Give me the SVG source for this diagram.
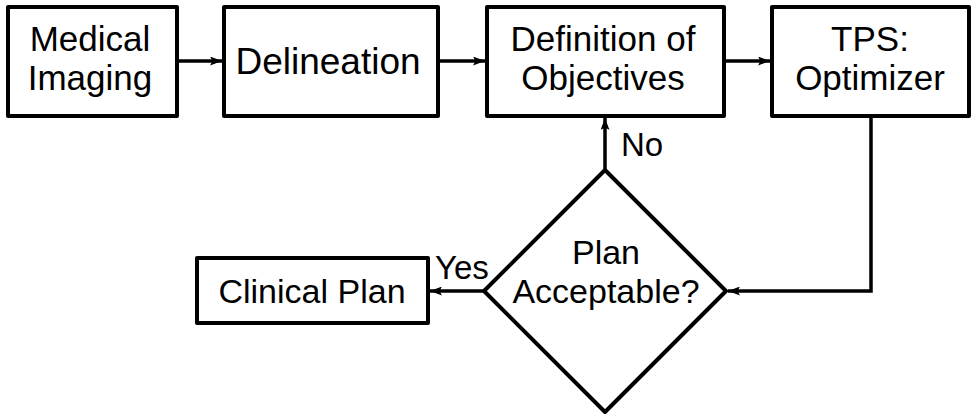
<svg xmlns="http://www.w3.org/2000/svg" width="975" height="418" viewBox="0 0 975 418">
<style>
.box{fill:#fff;stroke:#000;stroke-width:4;stroke-linejoin:round}
.t{font-family:"Liberation Sans",Arial,sans-serif;font-size:35px;fill:#000;text-anchor:middle}
.s{font-size:34px}
.lbl{font-family:"Liberation Sans",Arial,sans-serif;font-size:33px;fill:#000}
.c{fill:none;stroke:#000;stroke-width:3.5}
</style>
<defs>
<marker id="ah" viewBox="0 0 12 9" refX="12" refY="4.5" markerWidth="12" markerHeight="9" markerUnits="userSpaceOnUse" orient="auto">
<path d="M0,0 L12,4.5 L0,9 L2.5,4.5 Z" fill="#000"/>
</marker>
</defs>
<rect width="975" height="418" fill="#fff"/>
<g id="connectors">
<path class="c" d="M177,61 H222" marker-end="url(#ah)"/>
<path class="c" d="M438,61 H485" marker-end="url(#ah)"/>
<path class="c" d="M724,61 H770" marker-end="url(#ah)"/>
<path class="c" d="M871,116 V291 H728" marker-end="url(#ah)"/>
<path class="c" d="M605,170 V118" marker-end="url(#ah)"/>
<path class="c" d="M484,291 H430" marker-end="url(#ah)"/>
<text class="lbl" x="621" y="156">No</text>
<text class="lbl" x="435" y="279">Yes</text>
</g>
<g id="medical-imaging">
<rect class="box" x="8" y="7" width="169" height="109"/>
<text class="t" x="90" y="51">Medical</text>
<text class="t" x="90" y="90">Imaging</text>
</g>
<g id="delineation">
<rect class="box" x="224" y="7" width="214" height="109"/>
<text class="t s" x="328" y="74" style="font-size:37px">Delineation</text>
</g>
<g id="definition">
<rect class="box" x="487" y="7" width="237" height="109"/>
<text class="t" x="603" y="51">Definition of</text>
<text class="t" x="603" y="90">Objectives</text>
</g>
<g id="tps">
<rect class="box" x="772" y="7" width="197" height="109"/>
<text class="t" x="870" y="51">TPS:</text>
<text class="t" x="870" y="90">Optimizer</text>
</g>
<g id="decision">
<path class="box" d="M605,170 L726,291 L605,412 L484,291 Z"/>
<text class="t s" x="606" y="264">Plan</text>
<text class="t s" x="606" y="303">Acceptable?</text>
</g>
<g id="clinical-plan">
<rect class="box" x="197" y="258" width="231" height="65"/>
<text class="t s" x="312" y="303">Clinical Plan</text>
</g>
</svg>
